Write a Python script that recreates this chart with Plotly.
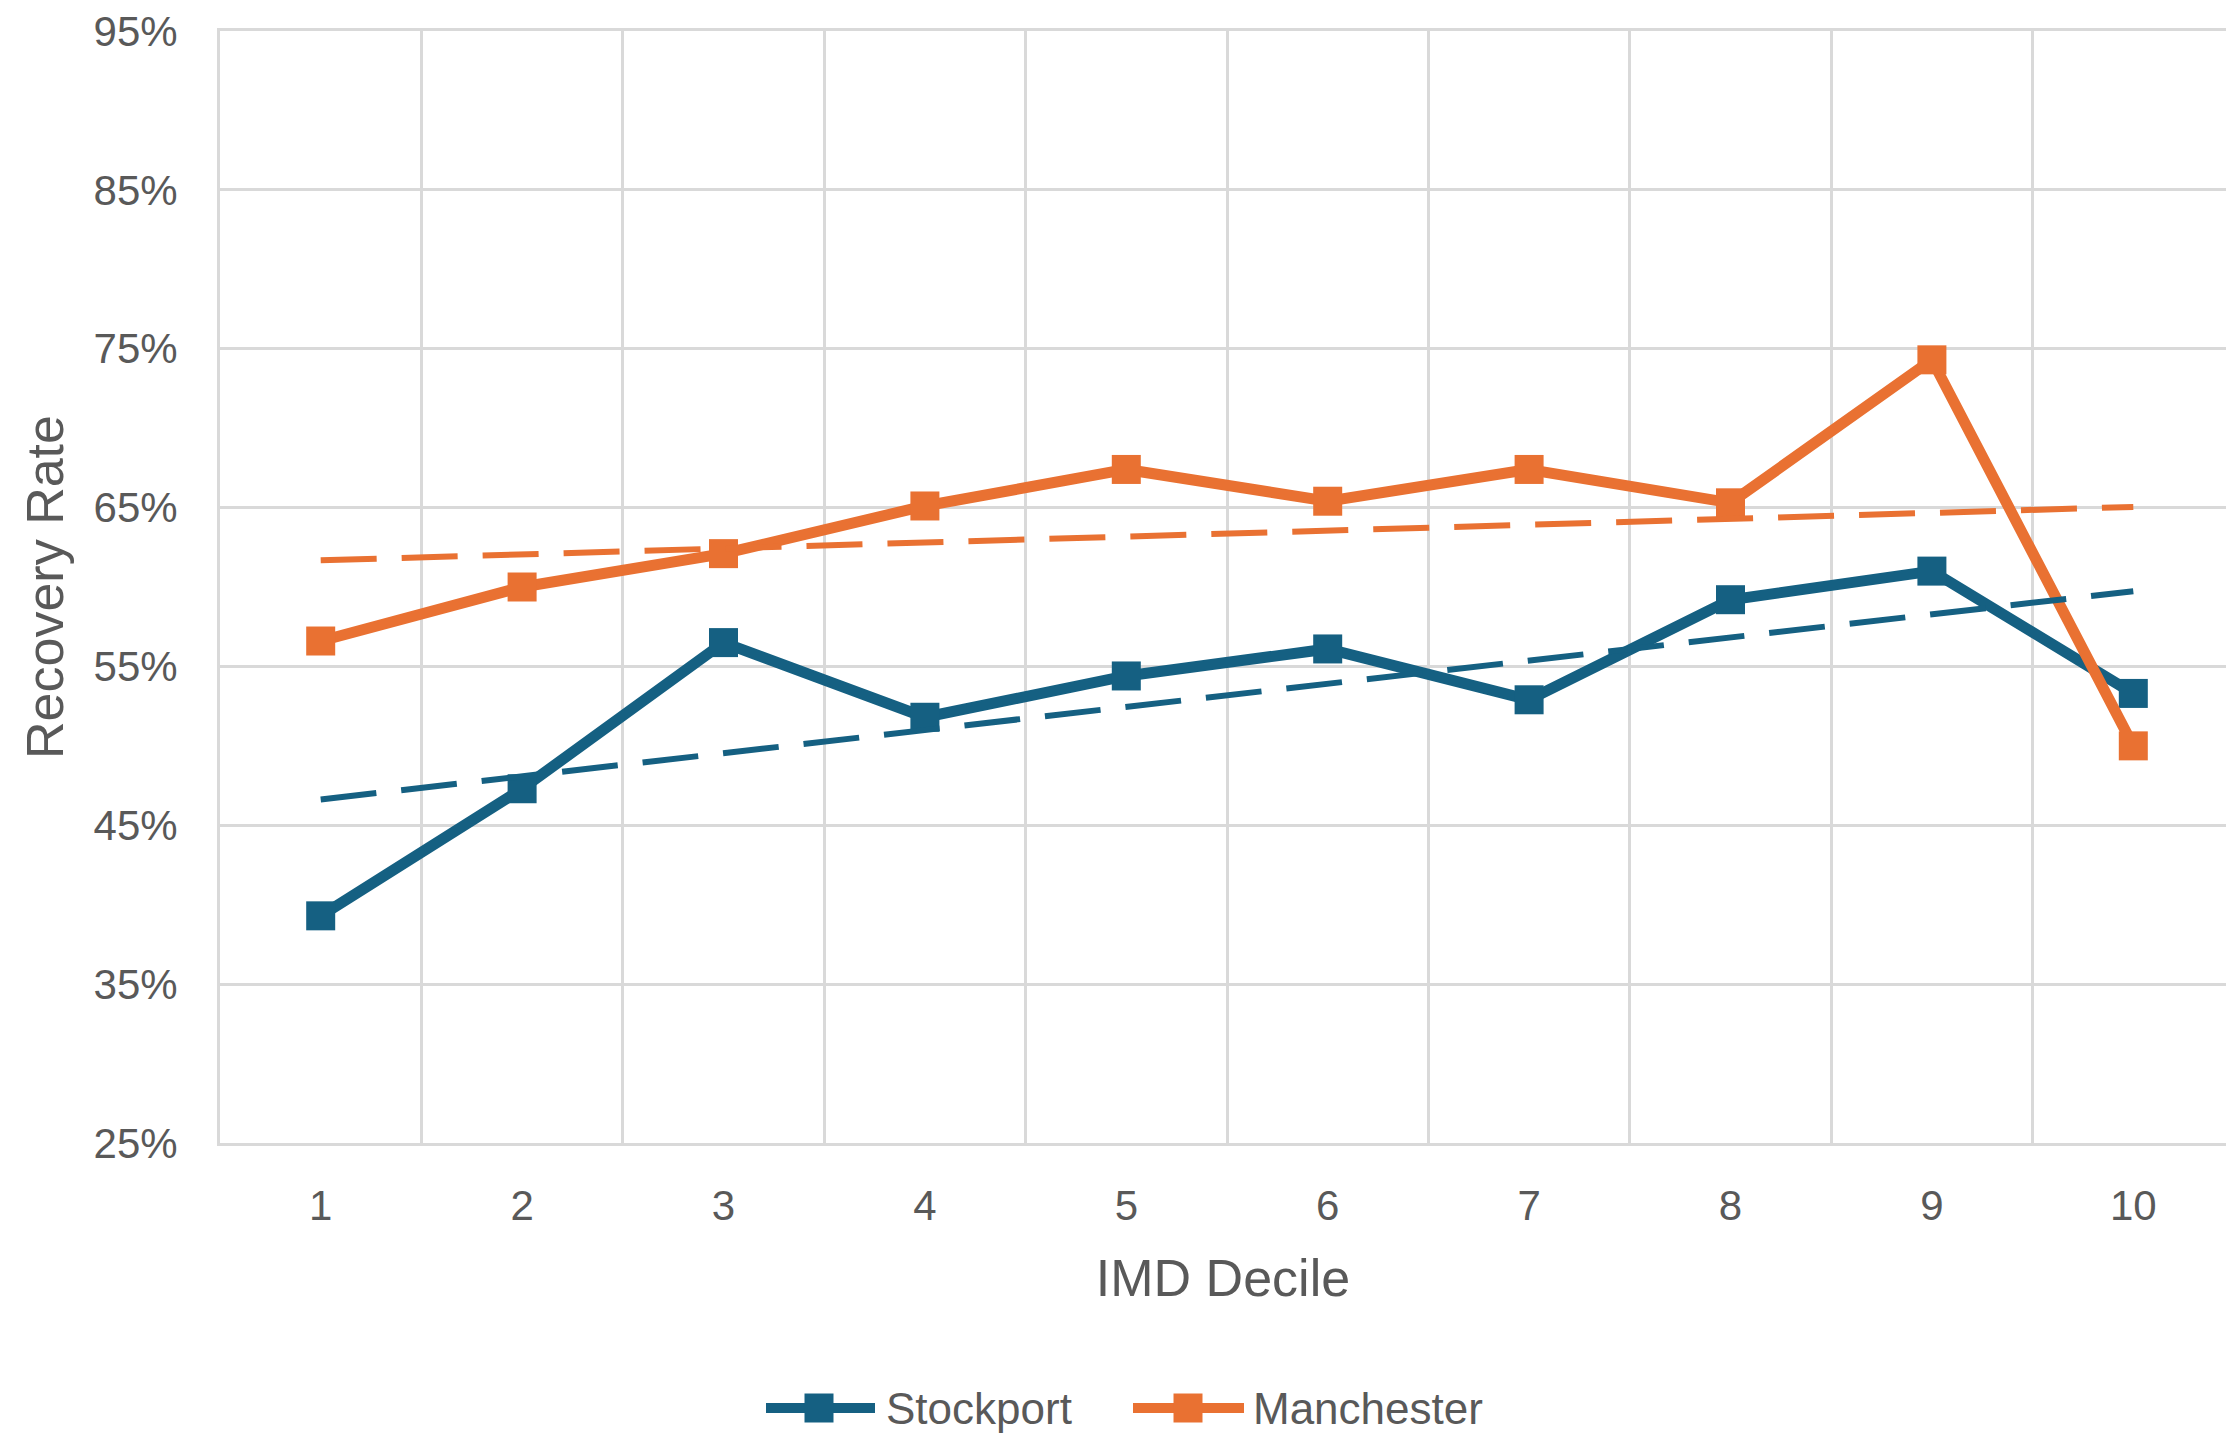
import numpy as np
import plotly.graph_objects as go

# Recovery rate (%) by IMD decile
deciles = [1, 2, 3, 4, 5, 6, 7, 8, 9, 10]
stockport = [39.3, 47.3, 56.5, 51.8, 54.4, 56.1, 52.9, 59.2, 61.0, 53.3]
manchester = [56.6, 60.0, 62.1, 65.1, 67.4, 65.4, 67.4, 65.3, 74.3, 50.0]

series_names = ["Stockport", "Manchester"]
series_values = [stockport, manchester]
series_colors = ["#156082", "#E97132"]

y_ticks = [25, 35, 45, 55, 65, 75, 85, 95]
y_labels = [f"{v}%" for v in y_ticks]
x_labels = [str(d) for d in deciles]

TEXT = "#595959"
GRID = "#D9D9D9"
FONT = "Liberation Sans, Arial, sans-serif"

W, H = 2226, 1435
M_L, M_R, M_T, M_B = 220, 0, 31, 292
PW = W - M_L - M_R
PH = H - M_T - M_B

fig = go.Figure()

# data series
for name, vals, col in zip(series_names, series_values, series_colors):
    fig.add_trace(go.Scatter(
        x=deciles, y=vals, name=name, mode="lines+markers",
        line=dict(color=col, width=11),
        marker=dict(symbol="square", size=29, color=col),
        showlegend=False,
    ))

# linear trend lines (least squares fit of each series)
x_arr = np.array(deciles, dtype=float)
for name, vals, col in zip(series_names, series_values, series_colors):
    slope, intercept = np.polyfit(x_arr, np.array(vals), 1)
    fig.add_trace(go.Scatter(
        x=deciles, y=list(slope * x_arr + intercept),
        mode="lines", name=name + " trend",
        line=dict(color=col, width=6, dash="56px,25px"),
        showlegend=False, hoverinfo="skip",
    ))


def px_x(px):
    return (px - M_L) / PW


def px_y(py):
    return (H - M_B - py) / PH


# legend keys drawn below the plot
legend_y = 1408
legend_items = [
    (series_names[0], series_colors[0], 766, 875, 819, 884),
    (series_names[1], series_colors[1], 1133, 1244, 1188, 1251),
]
shapes = []
annotations = []
for name, col, lx0, lx1, mx, tx in legend_items:
    shapes.append(dict(
        type="line", xref="paper", yref="paper",
        x0=px_x(lx0), x1=px_x(lx1), y0=px_y(legend_y), y1=px_y(legend_y),
        line=dict(color=col, width=10),
    ))
    shapes.append(dict(
        type="rect", xref="paper", yref="paper",
        x0=px_x(mx - 14.5), x1=px_x(mx + 14.5),
        y0=px_y(legend_y + 14.5), y1=px_y(legend_y - 14.5),
        line=dict(width=0), fillcolor=col,
    ))
    annotations.append(dict(
        text=name, xref="paper", yref="paper",
        x=px_x(tx), y=px_y(legend_y), xanchor="left", yanchor="middle",
        showarrow=False, font=dict(family=FONT, size=44, color=TEXT),
    ))

fig.update_layout(
    width=W, height=H,
    margin=dict(l=M_L, r=M_R, t=M_T, b=M_B, pad=0),
    paper_bgcolor="white", plot_bgcolor="white",
    font=dict(family=FONT, color=TEXT),
    shapes=shapes, annotations=annotations,
    showlegend=False,
)

fig.update_xaxes(
    range=[0.5, 0.5 + PW / 201.4],
    tickmode="array", tickvals=deciles, ticktext=x_labels,
    showgrid=False, zeroline=False, ticks="",
    showline=True, mirror=True, linecolor=GRID, linewidth=3,
    tickfont=dict(family=FONT, size=42, color=TEXT),
    ticklabelstandoff=24,
    minor=dict(tickmode="array", tickvals=[d - 0.5 for d in deciles] + [10.5],
               showgrid=True, gridcolor=GRID, gridwidth=3, ticks=""),
    title=dict(text="IMD Decile", font=dict(family=FONT, size=52, color=TEXT), standoff=32),
)

fig.update_yaxes(
    range=[25, 95],
    tickmode="array", tickvals=y_ticks, ticktext=y_labels,
    showgrid=True, gridcolor=GRID, gridwidth=3,
    zeroline=False, showline=True, linecolor=GRID, linewidth=3, ticks="",
    tickfont=dict(family=FONT, size=42, color=TEXT),
    ticklabelstandoff=31,
    title=dict(text="Recovery Rate", font=dict(family=FONT, size=52, color=TEXT), standoff=14),
)

fig.write_html("out.html")
